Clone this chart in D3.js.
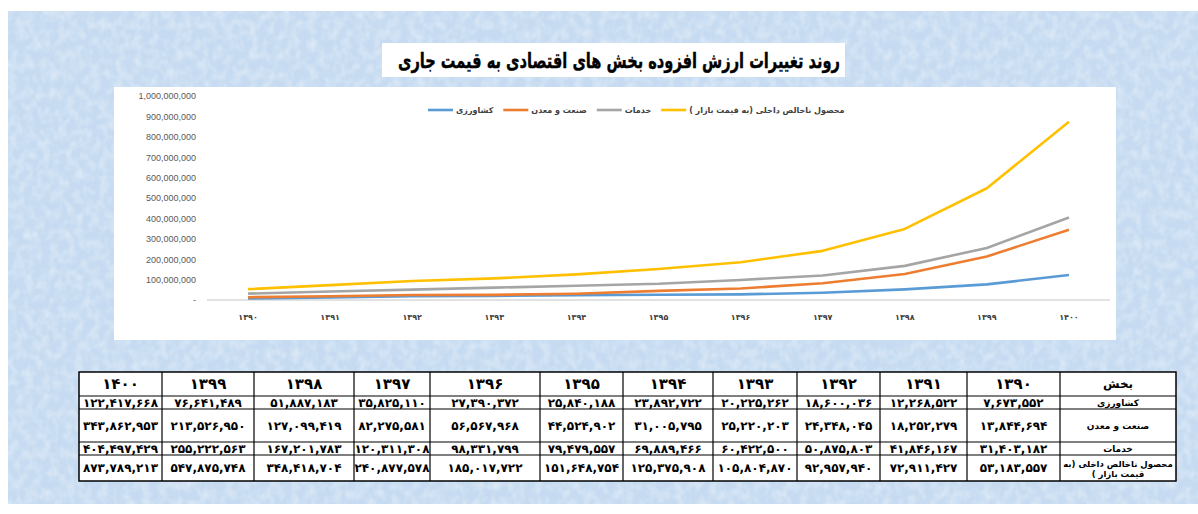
<!DOCTYPE html>
<html>
<head>
<meta charset="utf-8">
<script src="https://cdn.jsdelivr.net/npm/d3@7"></script>
<style>
  body { margin: 0; background: #fff; }
  svg { display: block; }
</style>
</head>
<body>
<div id="chart"></div>
<script>
// values (thousand rials)
var years = [1390, 1391, 1392, 1393, 1394, 1395, 1396, 1397, 1398, 1399, 1400];
var agriculture = [7673552, 12268522, 18600036, 20225262, 23892722, 25840188, 27390372, 35825110, 51887183, 76641489, 122417668];
var industry = [13844694, 18252279, 24348045, 25220203, 31005795, 44524902, 56567968, 82275581, 127099419, 213526950, 343862953];
var services = [31403182, 41846167, 50875803, 60422500, 69889466, 79479557, 98331799, 120311308, 167201783, 255222563, 404497429];
var gdp = [53183557, 72911427, 92957940, 105804870, 125375908, 151648754, 185017722, 240877578, 348418704, 547875748, 873789213];
var seriesNames = ["کشاورزی", "صنعت و معدن", "خدمات", "محصول ناخالص داخلی (به قیمت بازار )"];
var titleText = "روند تغییرات ارزش افزوده بخش های اقتصادی به قیمت جاری";
var sectorHeader = "بخش";

var colors = ["#5b9bd5", "#ed7d31", "#a5a5a5", "#ffc000"];
var series = [agriculture, industry, services, gdp].map(function (vals, i) {
  return { name: seriesNames[i], color: colors[i], values: vals.map(function (v, j) { return { year: years[j], v: v }; }) };
});

var W = 1198, H = 514;
var faFont = "'DejaVu Sans', sans-serif";
var fa = function (s) { return String(s).replace(/\d/g, function (d) { return "۰۱۲۳۴۵۶۷۸۹"[d]; }); };

var svg = d3.select("#chart").append("svg").attr("width", W).attr("height", H);

// textured light blue backdrop
var defs = svg.append("defs");
var f = defs.append("filter").attr("id", "tex").attr("x", 0).attr("y", 0).attr("width", 1).attr("height", 1);
f.append("feTurbulence").attr("type", "fractalNoise").attr("baseFrequency", "0.12 0.1").attr("numOctaves", 2).attr("seed", 7);
f.append("feColorMatrix").attr("type", "matrix")
  .attr("values", "0 0 0 0 1  0 0 0 0 1  0 0 0 0 1  0 0 0 1.6 -0.6");
svg.append("rect").attr("x", 8).attr("y", 11).attr("width", W - 8).attr("height", 493).attr("fill", "#c6dbf1");
svg.append("rect").attr("x", 8).attr("y", 11).attr("width", W - 8).attr("height", 493).attr("filter", "url(#tex)").attr("opacity", 0.45);

// title box
svg.append("rect").attr("x", 382).attr("y", 43).attr("width", 463).attr("height", 34).attr("fill", "#fff");
svg.append("text").attr("x", 619).attr("y", 68).attr("text-anchor", "middle")
  .attr("direction", "rtl")
  .attr("textLength", 442).attr("lengthAdjust", "spacingAndGlyphs")
  .attr("stroke", "#000").attr("stroke-width", 0.4)
  .style("font-family", faFont).style("font-weight", "bold").style("font-size", "21px")
  .text(titleText);

// chart area
svg.append("rect").attr("x", 114).attr("y", 87).attr("width", 1002).attr("height", 253).attr("fill", "#fff");

var x = d3.scaleBand().domain(years).range([207, 1110]);
var y = d3.scaleLinear().domain([0, 1000000000]).range([300, 96]);

var yAxis = svg.append("g").attr("transform", "translate(196,0)")
  .call(d3.axisLeft(y).tickValues(d3.range(0, 1000000001, 100000000)).tickSize(0).tickPadding(0)
    .tickFormat(function (d) { return d === 0 ? "-   " : d3.format(",")(d); }));
yAxis.select(".domain").remove();
yAxis.selectAll("text").attr("fill", "#595959").style("font-family", "'Liberation Sans', Arial, sans-serif").style("font-size", "9px");

svg.append("line").attr("x1", 207).attr("x2", 1110).attr("y1", y(0)).attr("y2", y(0))
  .attr("stroke", "#d9d9d9").attr("stroke-width", 1.3);

var xAxis = svg.append("g").attr("transform", "translate(0,306)")
  .call(d3.axisBottom(x).tickSize(0).tickPadding(8).tickFormat(fa));
xAxis.select(".domain").remove();
xAxis.selectAll("text").attr("fill", "#404040").style("font-family", faFont).style("font-size", "8px").style("font-weight", "bold");

var line = d3.line().x(function (d) { return x(d.year) + x.bandwidth() / 2; }).y(function (d) { return y(d.v); });
svg.append("g").selectAll("path").data(series).join("path")
  .attr("fill", "none").attr("stroke", function (d) { return d.color; })
  .attr("stroke-width", 2.6).attr("stroke-linejoin", "round")
  .attr("d", function (d) { return line(d.values); });

// legend, laid out left to right
var lx = 428;
series.forEach(function (s) {
  svg.append("line").attr("x1", lx).attr("x2", lx + 25).attr("y1", 110).attr("y2", 110)
    .attr("stroke", s.color).attr("stroke-width", 2.6);
  var t = svg.append("text").attr("y", 113).attr("direction", "rtl").attr("text-anchor", "middle")
    .style("font-family", faFont).style("font-size", "8px").style("font-weight", "bold").attr("fill", "#404040")
    .text(s.name);
  var w = t.node().getComputedTextLength();
  t.attr("x", lx + 28 + w / 2);
  lx += 28 + w + 10;
});

// data table (years run right to left)
var colEdges = [79, 162, 254, 354, 430, 540, 623, 713, 797, 880, 967, 1060, 1176];
var rowEdges = [372, 396, 409, 442, 455, 481];
var tableCols = years.slice().reverse();
var tg = svg.append("g");
tg.append("rect").attr("x", colEdges[0]).attr("y", rowEdges[0])
  .attr("width", colEdges[colEdges.length - 1] - colEdges[0]).attr("height", rowEdges[rowEdges.length - 1] - rowEdges[0])
  .attr("fill", "#fff").attr("stroke", "#000").attr("stroke-width", 1.5);
colEdges.slice(1, -1).forEach(function (cx) {
  tg.append("line").attr("x1", cx).attr("x2", cx).attr("y1", rowEdges[0]).attr("y2", rowEdges[rowEdges.length - 1])
    .attr("stroke", "#000").attr("stroke-width", 1.2);
});
rowEdges.slice(1, -1).forEach(function (ry) {
  tg.append("line").attr("x1", colEdges[0]).attr("x2", colEdges[colEdges.length - 1]).attr("y1", ry).attr("y2", ry)
    .attr("stroke", "#000").attr("stroke-width", 1.2);
});
function cellText(ci, ri, txt, size) {
  return tg.append("text")
    .attr("x", (colEdges[ci] + colEdges[ci + 1]) / 2)
    .attr("y", (rowEdges[ri] + rowEdges[ri + 1]) / 2)
    .attr("dy", "0.35em").attr("text-anchor", "middle").attr("direction", "rtl")
    .style("font-family", faFont).style("font-weight", "bold").style("font-size", size)
    .text(txt);
}
tableCols.forEach(function (yr, ci) {
  cellText(ci, 0, fa(yr), "15px");
  var j = years.indexOf(yr);
  series.forEach(function (s, si) {
    cellText(ci, si + 1, fa(d3.format(",")(s.values[j].v)), "12px");
  });
});
var lc = colEdges.length - 2;
cellText(lc, 0, sectorHeader, "12px");
seriesNames.slice(0, 3).forEach(function (n, i) { cellText(lc, i + 1, n, "9px"); });
// the long label wraps on two lines
var words = seriesNames[3].split(" ");
var tl = cellText(lc, 4, "", "8.5px").attr("dy", null);
tl.append("tspan").attr("x", (colEdges[lc] + colEdges[lc + 1]) / 2).attr("dy", "-0.15em").text(words.slice(0, 4).join(" "));
tl.append("tspan").attr("x", (colEdges[lc] + colEdges[lc + 1]) / 2).attr("dy", "1.15em").text(words.slice(4).join(" "));
</script>
</body>
</html>
